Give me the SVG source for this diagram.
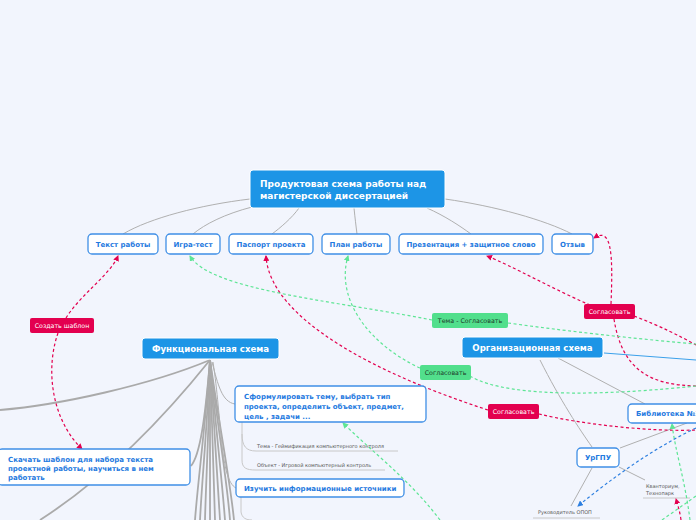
<svg xmlns="http://www.w3.org/2000/svg" width="696" height="520" viewBox="0 0 696 520">
<defs>
<style>
.bg{fill:#f2f5fd}
.main{fill:#1d95e6;stroke:#ffffff;stroke-width:1}
.mt{fill:#ffffff;font-family:"DejaVu Sans",sans-serif;font-weight:bold}
.node{fill:#ffffff;stroke:#3f8fe6;stroke-width:1.3}
.nt{fill:#1f7ae0;font-family:"DejaVu Sans",sans-serif;font-weight:bold;font-size:7px}
.st{fill:#555555;font-family:"DejaVu Sans",sans-serif;font-size:5px}
.lt{font-family:"DejaVu Sans",sans-serif;font-size:6.3px}
.red{fill:#e3004f}
.grn{fill:#52df8c}
.gl{fill:none;stroke:#b0b0b0;stroke-width:1}
.gt{fill:none;stroke:#aaaaaa;stroke-width:1.8}
.ul{fill:none;stroke:#c8c8c8;stroke-width:1}
.dr{fill:none;stroke:#e3004f;stroke-width:1.2;stroke-dasharray:3 2.5}
.dg{fill:none;stroke:#5ee595;stroke-width:1.2;stroke-dasharray:3 2.5}
.db{fill:none;stroke:#2d7fe0;stroke-width:1.2;stroke-dasharray:3 2.5}
</style>
<marker id="ar" viewBox="0 0 6 6" refX="5" refY="3" markerWidth="6" markerHeight="6" markerUnits="userSpaceOnUse" orient="auto"><path d="M0,0 L6,3 L0,6 z" fill="#e3004f"/></marker>
<marker id="ag" viewBox="0 0 6 6" refX="5" refY="3" markerWidth="6" markerHeight="6" markerUnits="userSpaceOnUse" orient="auto"><path d="M0,0 L6,3 L0,6 z" fill="#5ee595"/></marker>
<marker id="ab" viewBox="0 0 6 6" refX="5" refY="3" markerWidth="6" markerHeight="6" markerUnits="userSpaceOnUse" orient="auto"><path d="M0,0 L6,3 L0,6 z" fill="#2d7fe0"/></marker>
</defs>
<rect class="bg" x="0" y="0" width="696" height="520"/>

<g id="connectors">
<!-- root to children -->
<path class="gl" d="M250,199 C 200,205 150,218 123,234"/>
<path class="gl" d="M252,207 C 225,214 205,224 193,234"/>
<path class="gl" d="M299,208 C 292,218 280,228 272,234"/>
<path class="gl" d="M354,208 C 355,218 356,226 357,234"/>
<path class="gl" d="M427,208 C 445,216 460,226 471,234"/>
<path class="gl" d="M445,199 C 495,206 545,220 572,234"/>
<!-- functional scheme fan -->
<path class="gt" d="M210,360 C 150,385 60,405 0,410"/>
<path class="gt" d="M210,360 C 170,410 110,475 40,520"/>
<path class="gt" d="M210,360 C 205,420 200,455 191,466"/>
<path class="gt" d="M210,360 C 205,430 198,480 195,520"/>
<path class="gt" d="M210,360 C 207,430 202,480 200,520"/>
<path class="gt" d="M210,360 C 209,430 206,480 205,520"/>
<path class="gt" d="M210,360 C 210,430 210,480 210,520"/>
<path class="gt" d="M210,360 C 212,430 214,480 215,520"/>
<path class="gt" d="M210,360 C 214,430 218,480 220,520"/>
<path class="gt" d="M210,360 C 216,430 222,480 225,520"/>
<path class="gt" d="M210,360 C 218,430 227,480 230,520"/>
<path class="gt" d="M210,360 C 220,430 230,480 234,520"/>
<path class="gl" d="M212,362 C 218,385 222,402 235,404"/>
<path class="gl" d="M213,362 C 222,420 220,480 236,488"/>
<path class="ul" d="M242,422 L242,434 C 242,446 246,451 256,451 L398,451"/>
<path class="ul" d="M242,434 L242,460 C 242,468 246,470 256,470 L385,470"/>
<path class="ul" d="M241,497 L241,512 C 242,518 246,520 252,520"/>
<!-- organisational scheme -->
<path fill="none" stroke="#3aa0ea" stroke-width="1" d="M604,353 L696,360"/>
<path class="gl" d="M558,358 L645,404"/>
<path class="gl" d="M540,360 C 560,400 580,430 592,447"/>
<path class="gl" d="M620,448 L687,423"/>
<path class="gl" d="M619,467 L645,480"/>
<path class="gl" d="M592,468 L571,506"/>
<path class="ul" d="M643,498 L690,498"/>
<path class="ul" d="M533,518 L600,518"/>
<!-- dashed relations -->
<path class="dr" d="M66,318 C 80,295 110,275 118,256" marker-end="url(#ar)"/>
<path class="dr" d="M58,333 C 45,370 52,420 82,449" marker-end="url(#ar)"/>
<path class="dr" d="M488,410 C 380,375 270,320 266,256" marker-end="url(#ar)"/>
<path class="dr" d="M539,414 C 580,424 650,432 696,430"/>
<path class="dr" d="M611,304 C 613,255 612,226 594,238" marker-end="url(#ar)"/>
<path class="dr" d="M590,305 C 555,290 510,265 487,256" marker-end="url(#ar)"/>
<path class="dr" d="M634,316 C 660,326 680,336 696,345"/>
<path class="dr" d="M614,319 C 622,370 650,385 696,386"/>
<path class="dr" d="M681,520 C 680,512 678,506 676,499" marker-end="url(#ar)"/>
<path class="dg" d="M432,320 C 330,300 210,290 190,256" marker-end="url(#ag)"/>
<path class="dg" d="M508,323 C 580,333 650,340 696,344"/>
<path class="dg" d="M420,368 C 370,345 335,300 348,256" marker-end="url(#ag)"/>
<path class="dg" d="M470,376 C 510,400 620,394 696,386"/>
<path class="dg" d="M440,520 C 410,480 370,450 343,423" marker-end="url(#ag)"/>
<path class="dg" d="M690,520 C 685,480 675,450 672,424" marker-end="url(#ag)"/>
<path class="dg" d="M662,520 L696,496"/>
<path class="db" d="M696,428 C 650,450 610,480 578,506" marker-end="url(#ab)"/>
</g>

<g id="root">
<rect class="main" x="250" y="170" width="195" height="38" rx="3"/>
<text class="mt" font-size="9" x="260" y="187">Продуктовая схема работы над</text>
<text class="mt" font-size="9" x="260" y="199">магистерской диссертацией</text>
</g>

<g id="n-text"><rect class="node" x="88" y="234" width="70" height="20" rx="4"/><text class="nt" x="123" y="246.5" text-anchor="middle">Текст работы</text></g>
<g id="n-game"><rect class="node" x="166" y="234" width="54" height="20" rx="4"/><text class="nt" x="193" y="246.5" text-anchor="middle">Игра-тест</text></g>
<g id="n-passport"><rect class="node" x="229" y="234" width="84" height="20" rx="4"/><text class="nt" x="271" y="246.5" text-anchor="middle">Паспорт проекта</text></g>
<g id="n-plan"><rect class="node" x="322" y="234" width="68" height="20" rx="4"/><text class="nt" x="356" y="246.5" text-anchor="middle">План работы</text></g>
<g id="n-present"><rect class="node" x="399" y="234" width="144" height="20" rx="4"/><text class="nt" x="471" y="246.5" text-anchor="middle">Презентация + защитное слово</text></g>
<g id="n-review"><rect class="node" x="552" y="234" width="41" height="20" rx="4"/><text class="nt" x="572.5" y="246.5" text-anchor="middle">Отзыв</text></g>

<g id="n-func"><rect class="main" x="142" y="338" width="137" height="21" rx="3"/><text class="mt" font-size="8.6" x="210.5" y="351.5" text-anchor="middle">Функциональная схема</text></g>
<g id="n-org"><rect class="main" x="462" y="337" width="141" height="21" rx="3"/><text class="mt" font-size="8.6" x="532.5" y="350.5" text-anchor="middle">Организационная схема</text></g>

<g id="n-formulate"><rect class="node" x="235" y="386" width="191" height="36" rx="4"/>
<text class="nt" x="244" y="399">Сформулировать тему, выбрать тип</text>
<text class="nt" x="244" y="409">проекта, определить объект, предмет,</text>
<text class="nt" x="244" y="419">цель , задачи ...</text></g>
<g id="n-topic"><text class="st" x="257" y="447.5">Тема - Геймификация компьютерного контроля</text></g>
<g id="n-object"><text class="st" x="257" y="466.5">Объект - Игровой компьютерный контроль</text></g>
<g id="n-study"><rect class="node" x="236" y="479" width="168" height="18" rx="4"/><text class="nt" x="244" y="491">Изучить информационные источники</text></g>

<g id="n-download"><rect class="node" x="-2" y="449" width="192" height="36" rx="4"/>
<text class="nt" x="8" y="462">Скачать шаблон для набора текста</text>
<text class="nt" x="8" y="471">проектной работы, научиться в нем</text>
<text class="nt" x="8" y="480">работать</text></g>

<g id="n-library"><rect class="node" x="628" y="404" width="80" height="19" rx="4"/><text class="nt" x="636" y="416">Библиотека №1</text></g>
<g id="n-urgpu"><rect class="node" x="577" y="448" width="42" height="19" rx="4"/><text class="nt" x="598" y="460" text-anchor="middle">УрГПУ</text></g>
<g id="n-kvant"><text class="st" x="646" y="488">Кванториум,</text><text class="st" x="646" y="495">Технопарк</text></g>
<g id="n-head"><text class="st" x="538" y="514">Руководитель ОПОП</text></g>

<g id="l-template"><rect class="red" x="30" y="318" width="64" height="15" rx="2"/><text class="lt" fill="#ffffff" x="62" y="328" text-anchor="middle">Создать шаблон</text></g>
<g id="l-topic"><rect class="grn" x="432" y="313" width="76" height="15" rx="2"/><text class="lt" fill="#1e3a2a" x="470" y="323" text-anchor="middle">Тема - Согласовать</text></g>
<g id="l-agree1"><rect class="red" x="584" y="304" width="51" height="15" rx="2"/><text class="lt" fill="#ffffff" x="609.5" y="314" text-anchor="middle">Согласовать</text></g>
<g id="l-agree2"><rect class="grn" x="420" y="365" width="51" height="15" rx="2"/><text class="lt" fill="#1e3a2a" x="445.5" y="375" text-anchor="middle">Согласовать</text></g>
<g id="l-agree3"><rect class="red" x="488" y="404" width="51" height="15" rx="2"/><text class="lt" fill="#ffffff" x="513.5" y="414" text-anchor="middle">Согласовать</text></g>
</svg>
